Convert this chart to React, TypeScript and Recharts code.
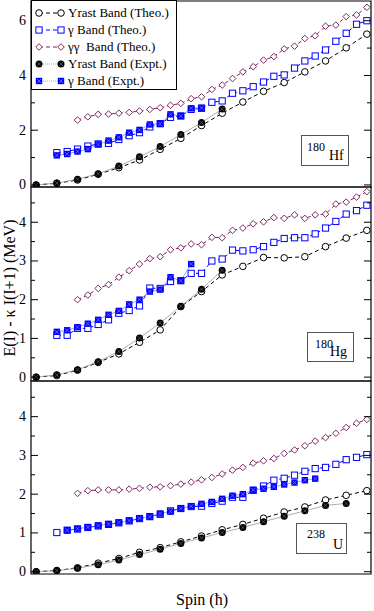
import React from 'react';
import { ComposedChart, Line, XAxis, YAxis, ReferenceArea } from 'recharts';

const FONT = '"Liberation Serif", "DejaVu Serif", serif';
const PURPLE = '#7d2a63';
const BLUE = '#0000ff';
const PLOT_R = 371;
const X_DOMAIN = [-0.5, 32.4];
const X_TICKS = Array.from({ length: 33 }, (_, i) => i);

// 180Hf
const hfYrastTheo = [0, 0.06, 0.18, 0.39, 0.63, 0.91, 1.3, 1.7, 2.17, 2.62, 3.03, 3.42, 3.74, 4.13, 4.53, 5.01, 5.51];
const hfYrastExpt = [0, 0.07, 0.21, 0.41, 0.69, 1.03, 1.4, 1.84, 2.28, 2.77];
const hfGammaTheo = [1.18, 1.22, 1.31, 1.42, 1.5, 1.52, 1.66, 1.8, 1.91, 2.12, 2.24, 2.47, 2.52, 2.76, 2.8, 3.02, 3.07, 3.35, 3.44, 3.59, 3.76, 3.97, 4.02, 4.27, 4.53, 4.71, 4.93, 5.25, 5.54, 5.87, 6.0];
const hfGammaExpt = [1.08, 1.13, 1.22, 1.31, 1.48, 1.62, 1.74, 1.91, 2.01, 2.21, 2.23, 2.58, 2.52, 2.8, 2.82];
const hfGGTheo = [2.37, 2.49, 2.58, 2.59, 2.62, 2.65, 2.7, 2.76, 2.82, 2.91, 2.98, 3.15, 3.22, 3.49, 3.65, 3.89, 4.13, 4.32, 4.56, 4.69, 4.97, 5.07, 5.35, 5.45, 5.8, 5.84, 6.15, 6.21, 6.49];

// 180Hg
const hgYrastTheo = [0, 0.04, 0.18, 0.38, 0.6, 0.9, 1.22, 1.82, 2.21, 2.64, 2.86, 3.09, 3.08, 3.11, 3.37, 3.59, 3.79];
const hgYrastExpt = [0, 0.06, 0.19, 0.4, 0.66, 1.01, 1.4, 1.83, 2.27, 2.76];
const hgGammaTheo = [1.08, 1.08, 1.26, 1.26, 1.36, 1.48, 1.65, 1.72, 1.84, 2.3, 2.29, 2.47, 2.49, 2.68, 2.68, 3.0, 3.05, 3.28, 3.26, 3.29, 3.37, 3.48, 3.58, 3.6, 3.6, 3.7, 3.85, 4.02, 4.21, 4.3, 4.44];
const hgGammaExpt = [1.17, 1.21, 1.29, 1.38, 1.48, 1.61, 1.71, 1.88, 2.0, 2.21, 2.26, 2.58, 2.49, 2.92];
const hgGGTheo = [2.0, 2.12, 2.29, 2.39, 2.58, 2.75, 2.92, 3.06, 3.11, 3.29, 3.34, 3.44, 3.42, 3.61, 3.6, 3.79, 3.85, 3.96, 4.01, 4.12, 4.1, 4.19, 4.1, 4.19, 4.21, 4.47, 4.52, 4.65, 4.79];

// 238U
const uYrastTheo = [0, 0.03, 0.1, 0.22, 0.34, 0.5, 0.62, 0.77, 0.92, 1.08, 1.22, 1.38, 1.54, 1.67, 1.85, 1.97, 2.09];
const uYrastExpt = [0, 0.03, 0.09, 0.18, 0.3, 0.44, 0.58, 0.73, 0.87, 1.01, 1.14, 1.29, 1.43, 1.57, 1.71, 1.76];
const uGammaTheo = [1.01, 1.07, 1.1, 1.14, 1.18, 1.22, 1.26, 1.31, 1.37, 1.42, 1.48, 1.57, 1.63, 1.68, 1.69, 1.76, 1.82, 1.92, 1.92, 2.1, 2.21, 2.36, 2.41, 2.49, 2.59, 2.66, 2.69, 2.77, 2.89, 2.95, 3.02];
const uGammaExpt = [1.07, 1.11, 1.15, 1.19, 1.23, 1.27, 1.32, 1.38, 1.42, 1.5, 1.55, 1.63, 1.69, 1.75, 1.8, 1.88, 1.96, 2.0, 2.11, 2.14, 2.19, 2.25, 2.3, 2.36, 2.4];
const uGGTheo = [2.02, 2.09, 2.11, 2.11, 2.11, 2.13, 2.15, 2.18, 2.19, 2.22, 2.26, 2.31, 2.37, 2.43, 2.52, 2.62, 2.69, 2.8, 2.86, 2.92, 3.05, 3.14, 3.25, 3.37, 3.46, 3.57, 3.72, 3.83, 3.93];

const toPts = (vals: number[], start: number, step: number) =>
  vals.map((e, i) => ({ spin: start + i * step, e }));

type Kind = 'openCircle' | 'filledCircle' | 'openSquare' | 'filledSquare' | 'diamond';

function Marker({ kind, cx, cy }: { kind: Kind; cx: number; cy: number }) {
  if (cx == null || cy == null) return null;
  switch (kind) {
    case 'openCircle':
      return <circle cx={cx} cy={cy} r={3.3} fill="#fff" stroke="#000" strokeWidth={1} />;
    case 'filledCircle':
      return (
        <g>
          <circle cx={cx} cy={cy} r={3.5} fill="#000" />
          <path d={`M${cx - 2},${cy - 2}L${cx + 2},${cy + 2}M${cx - 2},${cy + 2}L${cx + 2},${cy - 2}`} stroke="#777" strokeWidth={0.6} />
        </g>
      );
    case 'openSquare':
      return <rect x={cx - 3.1} y={cy - 3.1} width={6.2} height={6.2} fill="#fff" stroke={BLUE} strokeWidth={1} />;
    case 'filledSquare':
      return (
        <g>
          <rect x={cx - 3.2} y={cy - 3.2} width={6.4} height={6.4} fill={BLUE} />
          <path d={`M${cx - 2},${cy - 2}L${cx + 2},${cy + 2}M${cx - 2},${cy + 2}L${cx + 2},${cy - 2}`} stroke="#9999ff" strokeWidth={0.6} />
        </g>
      );
    default:
      return (
        <polygon
          points={`${cx},${cy - 3.3} ${cx + 3.3},${cy} ${cx},${cy + 3.3} ${cx - 3.3},${cy}`}
          fill="#fff"
          stroke={PURPLE}
          strokeWidth={1}
        />
      );
  }
}

const seriesStyle = [
  { name: 'Yrast Band (Theo.)', kind: 'openCircle' as Kind, stroke: '#000', dash: '4 3', width: 1 },
  { name: 'γ Band (Theo.)', kind: 'openSquare' as Kind, stroke: BLUE, dash: '4 3', width: 1 },
  { name: 'γγ  Band (Theo.)', kind: 'diamond' as Kind, stroke: PURPLE, dash: '4 3', width: 1 },
  { name: 'Yrast Band (Expt.)', kind: 'filledCircle' as Kind, stroke: '#999', dash: undefined, width: 0.8 },
  { name: 'γ Band (Expt.)', kind: 'filledSquare' as Kind, stroke: '#8888ff', dash: undefined, width: 0.8 },
];

interface PanelProps {
  top: number;
  height: number;
  margin: { top: number; bottom: number };
  domain: [number, number];
  yTicks: number[];
  majorStep: number;
  showXLabels: boolean;
  series: { spin: number; e: number }[][];
}

function Panel({ top, height, margin, domain, yTicks, majorStep, showXLabels, series }: PanelProps) {
  const plotTop = margin.top;
  const plotLeft = 31;
  return (
    <div style={{ position: 'absolute', left: 0, top, width: 374, height }}>
      <ComposedChart width={374} height={height} margin={{ top: margin.top, bottom: margin.bottom, left: 0, right: 374 - PLOT_R }}>
        <XAxis
          type="number"
          dataKey="spin"
          domain={X_DOMAIN}
          ticks={X_TICKS}
          interval={0}
          height={0}
          tickSize={0}
          tickMargin={0}
          axisLine={false}
          tickLine={false}
          allowDataOverflow
          tick={(p: any) => {
            const v = p.payload.value;
            const major = v % 2 === 0;
            const len = major ? 7 : 4;
            return (
              <g>
                <line x1={p.x} x2={p.x} y1={p.y} y2={p.y - len} stroke="#000" />
                <line x1={p.x} x2={p.x} y1={plotTop} y2={plotTop + len} stroke="#000" />
                {showXLabels && major && (
                  <text x={p.x} y={p.y + 14} textAnchor="middle" fontSize={14} fontFamily={FONT} fill="#000">
                    {v}
                  </text>
                )}
              </g>
            );
          }}
        />
        <YAxis
          type="number"
          domain={domain}
          ticks={yTicks}
          interval={0}
          width={plotLeft}
          tickSize={0}
          tickMargin={0}
          axisLine={false}
          tickLine={false}
          allowDataOverflow
          tick={(p: any) => {
            const v = p.payload.value;
            const major = Math.abs(v / majorStep - Math.round(v / majorStep)) < 1e-6;
            const len = major ? 7 : 4;
            return (
              <g>
                <line x1={p.x} x2={p.x + len} y1={p.y} y2={p.y} stroke="#000" />
                <line x1={PLOT_R - len} x2={PLOT_R} y1={p.y} y2={p.y} stroke="#000" />
                {major && (
                  <text x={p.x - 5} y={p.y + 4.5} textAnchor="end" fontSize={14} fontFamily={FONT} fill="#000">
                    {v}
                  </text>
                )}
              </g>
            );
          }}
        />
        <ReferenceArea x1={X_DOMAIN[0]} x2={X_DOMAIN[1]} y1={domain[0]} y2={domain[1]} fill="none" stroke="#000" strokeWidth={1.2} ifOverflow="visible" />
        {seriesStyle.map((s, k) => (
          <Line
            key={s.name}
            data={series[k]}
            dataKey="e"
            type="linear"
            stroke={s.stroke}
            strokeWidth={s.width}
            strokeDasharray={s.dash}
            isAnimationActive={false}
            dot={(d: any) => <Marker key={`${s.name}-${d.index}`} kind={s.kind} cx={d.cx} cy={d.cy} />}
            activeDot={false}
          />
        ))}
      </ComposedChart>
    </div>
  );
}

function LegendBox() {
  return (
    <div
      style={{
        position: 'absolute',
        left: 31,
        top: 0,
        width: 144,
        height: 88,
        border: '1px solid #000',
        background: '#fff',
        fontFamily: FONT,
        fontSize: 13,
        color: '#000',
      }}
    >
      {seriesStyle.map((s, i) => (
        <div key={s.name} style={{ position: 'absolute', left: 0, top: 3 + i * 17, height: 17, display: 'flex', alignItems: 'center' }}>
          <svg width={34} height={12} style={{ marginLeft: 2 }}>
            <line x1={5} x2={27} y1={6} y2={6} stroke={s.stroke} strokeWidth={s.width} strokeDasharray={s.dash ?? '1 1'} />
            <Marker kind={s.kind} cx={5} cy={6} />
            <Marker kind={s.kind} cx={27} cy={6} />
          </svg>
          <span style={{ whiteSpace: 'pre' }}>{s.name}</span>
        </div>
      ))}
    </div>
  );
}

interface LabelProps {
  left: number;
  top: number;
  width: number;
  height: number;
  mass: string;
  sym: string;
  massAt: [number, number];
  symAt: [number, number];
}

function NucleusLabel({ left, top, width, height, mass, sym, massAt, symAt }: LabelProps) {
  return (
    <div
      style={{
        position: 'absolute',
        left,
        top,
        width,
        height,
        border: '1px solid #555',
        background: '#fff',
        fontFamily: FONT,
        color: '#000',
        lineHeight: 1,
      }}
    >
      <span style={{ position: 'absolute', left: massAt[0], top: massAt[1], fontSize: 12 }}>{mass}</span>
      <span style={{ position: 'absolute', left: symAt[0], top: symAt[1], fontSize: 14 }}>{sym}</span>
    </div>
  );
}

export default function App() {
  const yTicks1 = [0, 1, 2, 3, 4, 5, 6];
  const yTicks2 = [0, 0.5, 1, 1.5, 2, 2.5, 3, 3.5, 4, 4.5];
  return (
    <div style={{ position: 'absolute', left: 0, top: 0, width: 374, height: 611, background: '#fff', overflow: 'hidden' }}>
      <style>{'svg{overflow:visible}'}</style>
      <Panel
        top={0}
        height={188}
        margin={{ top: 1, bottom: 1 }}
        domain={[-0.075, 6.72]}
        yTicks={yTicks1}
        majorStep={2}
        showXLabels={false}
        series={[
          toPts(hfYrastTheo, 0, 2),
          toPts(hfGammaTheo, 2, 1),
          toPts(hfGGTheo, 4, 1),
          toPts(hfYrastExpt, 0, 2),
          toPts(hfGammaExpt, 2, 1),
        ]}
      />
      <Panel
        top={187}
        height={194}
        margin={{ top: 0, bottom: 0 }}
        domain={[-0.1, 4.91]}
        yTicks={yTicks2}
        majorStep={1}
        showXLabels={false}
        series={[
          toPts(hgYrastTheo, 0, 2),
          toPts(hgGammaTheo, 2, 1),
          toPts(hgGGTheo, 4, 1),
          toPts(hgYrastExpt, 0, 2),
          toPts(hgGammaExpt, 2, 1),
        ]}
      />
      <Panel
        top={381}
        height={230}
        margin={{ top: 0, bottom: 37 }}
        domain={[-0.06, 4.92]}
        yTicks={yTicks2}
        majorStep={1}
        showXLabels={true}
        series={[
          toPts(uYrastTheo, 0, 2),
          toPts(uGammaTheo, 2, 1),
          toPts(uGGTheo, 4, 1),
          toPts(uYrastExpt, 0, 2),
          toPts(uGammaExpt, 3, 1),
        ]}
      />
      <LegendBox />
      <NucleusLabel left={301} top={135} width={46} height={29} mass="180" sym="Hf" massAt={[5, 5]} symAt={[27, 13]} />
      <NucleusLabel left={307} top={332} width={45} height={28} mass="180" sym="Hg" massAt={[7, 5]} symAt={[22, 12]} />
      <NucleusLabel left={296} top={523} width={49} height={29} mass="238" sym="U" massAt={[10, 4]} symAt={[36, 14]} />
      <div
        style={{
          position: 'absolute',
          left: 10,
          top: 288,
          transform: 'translate(-50%, -50%) rotate(-90deg)',
          whiteSpace: 'nowrap',
          fontFamily: FONT,
          fontSize: 16,
          color: '#000',
        }}
      >
        E(I) - κ I(I+1) (MeV)
      </div>
      <div
        style={{
          position: 'absolute',
          left: 202,
          top: 600,
          transform: 'translate(-50%, -50%)',
          whiteSpace: 'nowrap',
          fontFamily: FONT,
          fontSize: 16,
          color: '#000',
        }}
      >
        Spin (ħ)
      </div>
    </div>
  );
}
